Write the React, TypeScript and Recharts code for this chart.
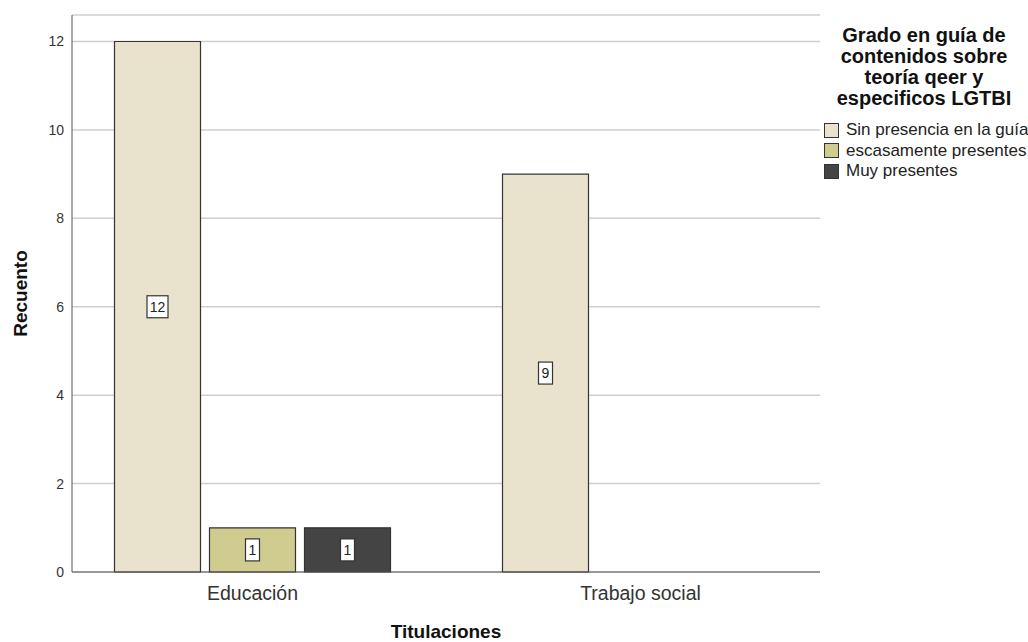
import React from "react";
import {
  BarChart,
  Bar,
  XAxis,
  YAxis,
  CartesianGrid,
  LabelList,
} from "recharts";

const titulaciones = ["Educación", "Trabajo social"];
const sinPresencia = [12, 9];
const escasamente = [1, null];
const muyPresentes = [1, null];

const seriesNames = [
  "Sin presencia en la guía",
  "escasamente presentes",
  "Muy presentes",
];
const seriesKeys = ["sinPresencia", "escasamente", "muyPresentes"];
const seriesColors = ["#E9E3CE", "#D0CB8F", "#444444"];

const legendTitle = [
  "Grado en guía de",
  "contenidos sobre",
  "teoría qeer y",
  "especificos LGTBI",
];
const yTicks = [0, 2, 4, 6, 8, 10, 12];

const data = titulaciones.map((t, i) => ({
  titulacion: t,
  sinPresencia: sinPresencia[i],
  escasamente: escasamente[i],
  muyPresentes: muyPresentes[i],
}));

const FONT = "Arial, 'Liberation Sans', sans-serif";

const ValueBox = (props: any) => {
  const { x, y, width, height, value } = props;
  if (value == null) return null;
  const text = String(value);
  const w = 7 + 7 * text.length;
  const h = 22;
  const cx = x + width / 2;
  const cy = y + height / 2;
  return (
    <g>
      <rect
        x={cx - w / 2}
        y={cy - h / 2}
        width={w}
        height={h}
        fill="#fff"
        stroke="#333"
        strokeWidth={1.2}
      />
      <text
        x={cx}
        y={cy}
        dy="0.36em"
        textAnchor="middle"
        fontSize={14}
        fontFamily={FONT}
        fill="#222"
      >
        {text}
      </text>
    </g>
  );
};

const YTitle = (props: any) => {
  const { viewBox } = props;
  const cy = viewBox.y + viewBox.height / 2;
  return (
    <text
      x={27}
      y={cy}
      transform={`rotate(-90, 27, ${cy})`}
      textAnchor="middle"
      fontSize={19}
      fontWeight="bold"
      fontFamily={FONT}
      fill="#111"
    >
      Recuento
    </text>
  );
};

// leyenda a la derecha, fuera del área del gráfico
const GradoLegend = () => (
  <div
    style={{
      position: "absolute",
      left: 819,
      top: 25,
      width: 210,
      fontFamily: FONT,
      color: "#111",
    }}
  >
    <div
      style={{
        textAlign: "center",
        fontWeight: "bold",
        fontSize: 20,
        lineHeight: "21px",
      }}
    >
      {legendTitle.map((l) => (
        <div key={l}>{l}</div>
      ))}
    </div>
    <div style={{ marginTop: 11, marginLeft: 5 }}>
      {seriesNames.map((name, i) => (
        <div
          key={name}
          style={{
            display: "flex",
            alignItems: "center",
            height: 20.5,
            fontSize: 17,
            whiteSpace: "nowrap",
            color: "#222",
          }}
        >
          <span
            style={{
              display: "inline-block",
              flexShrink: 0,
              width: 13,
              height: 13,
              background: seriesColors[i],
              border: "1px solid #333",
              marginRight: 7,
            }}
          />
          {name}
        </div>
      ))}
    </div>
  </div>
);

export default function App() {
  return (
    <div
      style={{
        position: "absolute",
        left: 0,
        top: 0,
        width: 1028,
        height: 642,
        background: "#fff",
      }}
    >
      <BarChart
        width={1028}
        height={642}
        data={data}
        margin={{ top: 15, right: 208, bottom: 0, left: 0 }}
        barSize={86}
        barGap={9}
      >
        <CartesianGrid vertical={false} stroke="#CFCFCF" strokeWidth={1.5} />
        <XAxis
          dataKey="titulacion"
          height={70}
          padding={{ left: -13.5, right: -14.5 }}
          tickLine={false}
          tickSize={0}
          tickMargin={14}
          axisLine={{ stroke: "#555", strokeWidth: 1 }}
          tick={{ fontSize: 19.5, fill: "#333", fontFamily: FONT }}
          label={{
            value: "Titulaciones",
            position: "insideBottom",
            offset: 4,
            style: {
              fontSize: 19,
              fontWeight: "bold",
              fill: "#111",
              fontFamily: FONT,
            },
          }}
        />
        <YAxis
          width={72}
          domain={[0, 12.6]}
          ticks={yTicks}
          tickLine={false}
          tickSize={0}
          tickMargin={8}
          axisLine={{ stroke: "#555", strokeWidth: 1 }}
          tick={{ fontSize: 14, fill: "#333", fontFamily: FONT }}
          label={<YTitle />}
        />
        {seriesKeys.map((k, i) => (
          <Bar
            key={k}
            dataKey={k}
            name={seriesNames[i]}
            fill={seriesColors[i]}
            stroke="#333"
            strokeWidth={1.2}
            isAnimationActive={false}
          >
            <LabelList dataKey={k} content={<ValueBox />} />
          </Bar>
        ))}
      </BarChart>
      <GradoLegend />
    </div>
  );
}
